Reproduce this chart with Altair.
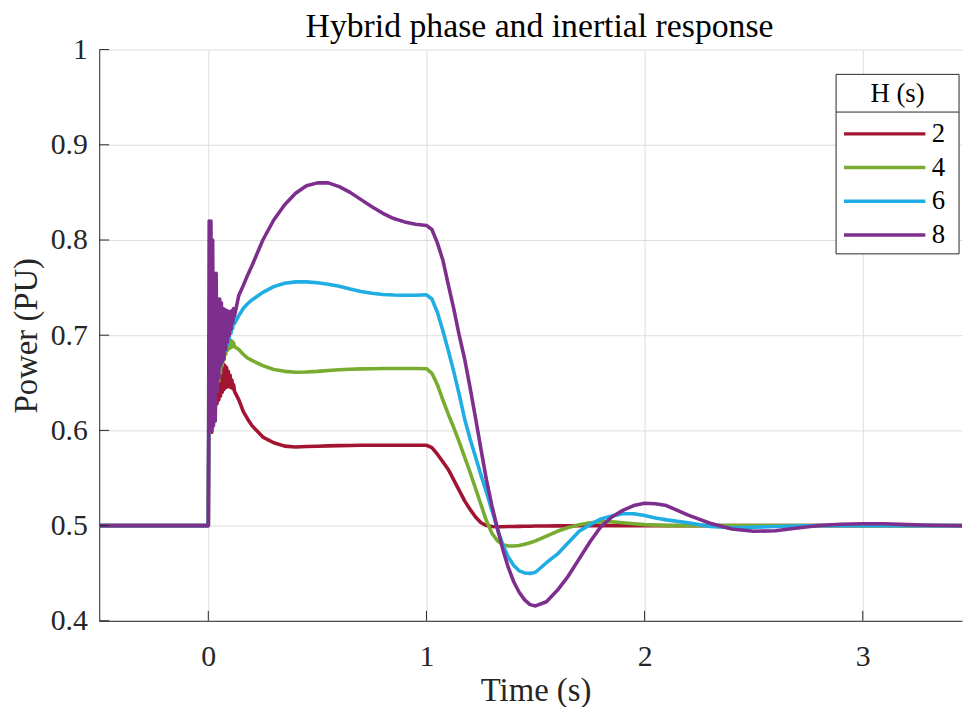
import altair as alt
import pandas as pd

# ---- time grid (s) ----
T_PRE = [-0.5, 0.0]
T_BURST = [0.004, 0.008, 0.012, 0.016, 0.020, 0.024, 0.028, 0.032, 0.036, 0.040,
           0.044, 0.048, 0.052, 0.056, 0.060, 0.064, 0.068, 0.072, 0.076, 0.080,
           0.084, 0.088, 0.092, 0.096, 0.100, 0.104, 0.108, 0.112, 0.116, 0.120]
T_RISE = [0.14, 0.16, 0.18, 0.2, 0.25, 0.3, 0.35, 0.4, 0.45, 0.5,
          0.55, 0.6, 0.65, 0.7, 0.75, 0.8, 0.85, 0.9, 0.95, 1.0]
T_DROP = [1.025, 1.05, 1.075, 1.1, 1.125, 1.15, 1.175, 1.2, 1.225, 1.25,
          1.275, 1.3, 1.325, 1.35, 1.375, 1.4, 1.425, 1.45, 1.475, 1.5]
T_SETTLE = [1.55, 1.6, 1.65, 1.7, 1.75, 1.8, 1.85, 1.9, 1.95, 2.0, 2.05, 2.1]
T_TAIL = [2.2, 2.3, 2.4, 2.5, 2.6, 2.7, 2.8, 2.9, 3.0, 3.1, 3.2, 3.3, 3.455]
TIME = T_PRE + T_BURST + T_RISE + T_DROP + T_SETTLE + T_TAIL

# ---- power (PU) per inertia constant H ----
P_H2 = ([0.5, 0.5]
        + [0.66, 0.60, 0.665, 0.598, 0.668, 0.61, 0.668, 0.62, 0.668, 0.628,
           0.670, 0.632, 0.670, 0.636, 0.670, 0.640, 0.670, 0.643, 0.668, 0.645,
           0.666, 0.646, 0.662, 0.646, 0.658, 0.645, 0.653, 0.644, 0.648, 0.641]
        + [0.632, 0.620, 0.612, 0.605, 0.593, 0.587, 0.5835, 0.5826, 0.583, 0.5834,
           0.5837, 0.584, 0.5842, 0.5844, 0.5844, 0.5844, 0.5844, 0.5844, 0.5844, 0.5844]
        + [0.582, 0.575, 0.567, 0.559, 0.548, 0.537, 0.526, 0.517, 0.509, 0.503,
           0.500, 0.499, 0.4988, 0.4988, 0.499, 0.4991, 0.4992, 0.4993, 0.4994, 0.4995]
        + [0.4996, 0.4997, 0.4998, 0.4999, 0.5, 0.5, 0.5, 0.5, 0.5, 0.5, 0.5, 0.5]
        + [0.5, 0.5, 0.5, 0.5, 0.5, 0.5, 0.5, 0.5, 0.5, 0.5, 0.5, 0.5, 0.5])

P_H4 = ([0.5, 0.5]
        + [0.68, 0.63, 0.69, 0.632, 0.695, 0.636, 0.697, 0.640, 0.698, 0.645,
           0.698, 0.652, 0.698, 0.660, 0.698, 0.668, 0.698, 0.674, 0.698, 0.680,
           0.698, 0.684, 0.697, 0.686, 0.695, 0.687, 0.694, 0.688, 0.692, 0.688]
        + [0.685, 0.680, 0.676, 0.6735, 0.668, 0.664, 0.662, 0.6611, 0.6613, 0.662,
           0.663, 0.6637, 0.6642, 0.6646, 0.6648, 0.665, 0.665, 0.665, 0.665, 0.6648]
        + [0.660, 0.648, 0.632, 0.617, 0.603, 0.588, 0.572, 0.556, 0.539, 0.522,
           0.505, 0.492, 0.484, 0.480, 0.4785, 0.4785, 0.479, 0.4805, 0.482, 0.484]
        + [0.489, 0.494, 0.498, 0.501, 0.503, 0.504, 0.504, 0.503, 0.502, 0.501, 0.5005, 0.5]
        + [0.5, 0.5, 0.5, 0.5, 0.5, 0.5, 0.5, 0.5, 0.5, 0.5, 0.5, 0.5, 0.5])

P_H6 = ([0.5, 0.5]
        + [0.70, 0.62, 0.71, 0.625, 0.715, 0.635, 0.715, 0.645, 0.715, 0.655,
           0.715, 0.662, 0.715, 0.668, 0.716, 0.672, 0.716, 0.678, 0.716, 0.684,
           0.716, 0.690, 0.716, 0.696, 0.716, 0.702, 0.717, 0.707, 0.718, 0.712]
        + [0.7205, 0.728, 0.733, 0.737, 0.745, 0.751, 0.7545, 0.756, 0.756, 0.755,
           0.7535, 0.7515, 0.7485, 0.746, 0.744, 0.7428, 0.7422, 0.742, 0.742, 0.7424]
        + [0.738, 0.724, 0.705, 0.684, 0.662, 0.638, 0.612, 0.591, 0.572, 0.553,
           0.535, 0.516, 0.497, 0.480, 0.467, 0.458, 0.4525, 0.4503, 0.4498, 0.451]
        + [0.461, 0.470, 0.482, 0.494, 0.501, 0.507, 0.510, 0.5125, 0.5125, 0.5105, 0.508, 0.506]
        + [0.503, 0.499, 0.4978, 0.4983, 0.499, 0.4995, 0.5, 0.5, 0.5, 0.5, 0.5, 0.5, 0.5])

P_H8 = ([0.5, 0.5]
        + [0.82, 0.60, 0.82, 0.60, 0.80, 0.605, 0.765, 0.61, 0.765, 0.64,
           0.738, 0.655, 0.738, 0.668, 0.734, 0.672, 0.728, 0.675, 0.727, 0.685,
           0.726, 0.693, 0.725, 0.700, 0.724, 0.706, 0.726, 0.713, 0.728, 0.720]
        + [0.742, 0.752, 0.763, 0.773, 0.80, 0.821, 0.837, 0.849, 0.857, 0.860,
           0.860, 0.856, 0.850, 0.8424, 0.835, 0.828, 0.8225, 0.819, 0.8165, 0.8153]
        + [0.811, 0.797, 0.779, 0.753, 0.728, 0.700, 0.675, 0.645, 0.613, 0.580,
           0.548, 0.521, 0.497, 0.475, 0.456, 0.441, 0.430, 0.422, 0.417, 0.4156]
        + [0.420, 0.432, 0.447, 0.465, 0.483, 0.499, 0.509, 0.516, 0.521, 0.5235, 0.523, 0.521]
        + [0.511, 0.5025, 0.4965, 0.494, 0.4945, 0.4975, 0.5, 0.5015, 0.502, 0.502, 0.501, 0.5003, 0.4998])

H_LABELS = ["2", "4", "6", "8"]
SERIES = [P_H2, P_H4, P_H6, P_H8]
COLORS = ["#A2142F", "#77AC30", "#1FADE4", "#7E2F8E"]
LEGEND_TITLE = "H (s)"

X_TICKS = [0, 1, 2, 3]
Y_TICKS = [0.4, 0.5, 0.6, 0.7, 0.8, 0.9, 1.0]
X_DOMAIN = [-0.5, 3.455]
Y_DOMAIN = [0.4, 1.0]

rows = []
for h, vals in zip(H_LABELS, SERIES):
    for t, p in zip(TIME, vals):
        rows.append({"t": t, "P": p, "H": h})
df = pd.DataFrame(rows)

W, H = 870, 576
FONT = "Liberation Serif"
INK = "#262626"

xs = alt.Scale(domain=X_DOMAIN, nice=False, zero=False)
ys = alt.Scale(domain=Y_DOMAIN, nice=False, zero=False)

x_axis = alt.Axis(values=X_TICKS, format="d", tickSize=0, labelPadding=21,
                  title="Time (s)", titlePadding=3, titleX=440)
y_axis = alt.Axis(values=Y_TICKS, format="~g", tickSize=0, labelPadding=12,
                  title="Power (PU)", titlePadding=7)

# legend frame (drawn behind the legend, above the grid)
LEG_BOX = {"x": 743, "x2": 867, "y": 25, "y2": 206, "sep": 63}
one = pd.DataFrame({"a": [0]})
box = alt.Chart(one).mark_rect(fill="white", stroke=INK, strokeWidth=1).encode(
    x=alt.value(LEG_BOX["x"]), x2=alt.value(LEG_BOX["x2"]),
    y=alt.value(LEG_BOX["y"]), y2=alt.value(LEG_BOX["y2"]))
sep = alt.Chart(one).mark_rule(color=INK, strokeWidth=1).encode(
    x=alt.value(LEG_BOX["x"]), x2=alt.value(LEG_BOX["x2"]), y=alt.value(LEG_BOX["sep"]))
leg_title = alt.Chart(one).mark_text(
    text=LEGEND_TITLE, font=FONT, fontSize=27, color="black",
    align="center", baseline="middle").encode(
    x=alt.value((LEG_BOX["x"] + LEG_BOX["x2"]) / 2),
    y=alt.value((LEG_BOX["y"] + LEG_BOX["sep"]) / 2 + 1))

lines = alt.Chart(df).mark_line(strokeWidth=3.6, clip=True, strokeJoin="round").encode(
    x=alt.X("t:Q", scale=xs, axis=x_axis),
    y=alt.Y("P:Q", scale=ys, axis=y_axis),
    color=alt.Color("H:N", scale=alt.Scale(domain=H_LABELS, range=COLORS),
                    legend=alt.Legend(
                        title=None, orient="none", legendX=735, legendY=68,
                        direction="vertical",
                        padding=3.5, symbolType="M-4,0H4", symbolSize=420,
                        symbolStrokeWidth=3.5, symbolOffset=40,
                        labelFont=FONT, labelFontSize=27,
                        labelColor="black", rowPadding=6,
                        labelOffset=34)),
    detail="H:N",
)

# inward ticks (MATLAB style)
xt_df = pd.DataFrame({"t": X_TICKS})
yt_df = pd.DataFrame({"P": Y_TICKS})
tick_len_y = 10 * (Y_DOMAIN[1] - Y_DOMAIN[0]) / H
tick_len_x = 10 * (X_DOMAIN[1] - X_DOMAIN[0]) / W
xticks = alt.Chart(xt_df).mark_rule(color=INK, strokeWidth=1).encode(
    x=alt.X("t:Q", scale=xs),
    y=alt.datum(Y_DOMAIN[0]),
    y2=alt.datum(Y_DOMAIN[0] + tick_len_y),
)
yticks = alt.Chart(yt_df).mark_rule(color=INK, strokeWidth=1).encode(
    y=alt.Y("P:Q", scale=ys),
    x=alt.datum(X_DOMAIN[0]),
    x2=alt.datum(X_DOMAIN[0] + tick_len_x),
)

chart = alt.layer(box, sep, leg_title, lines, xticks, yticks).properties(
    width=W, height=H,
    title=alt.Title("Hybrid phase and inertial response", font=FONT, fontSize=34,
                    fontWeight="normal", color="black", offset=0, dy=9, dx=9),
    autosize=alt.AutoSizeParams(type="none"),
    padding={"left": 92, "top": 39, "right": 1, "bottom": 84},
).configure_view(stroke=None).configure_axis(
    domainColor=INK, domainWidth=1, gridColor="#dedede", gridWidth=1,
    labelFont=FONT, labelFontSize=30, labelColor=INK,
    titleFont=FONT, titleFontSize=33, titleFontWeight="normal", titleColor=INK,
)

chart.save("out.html", embed_options={"renderer": "svg", "actions": False})
